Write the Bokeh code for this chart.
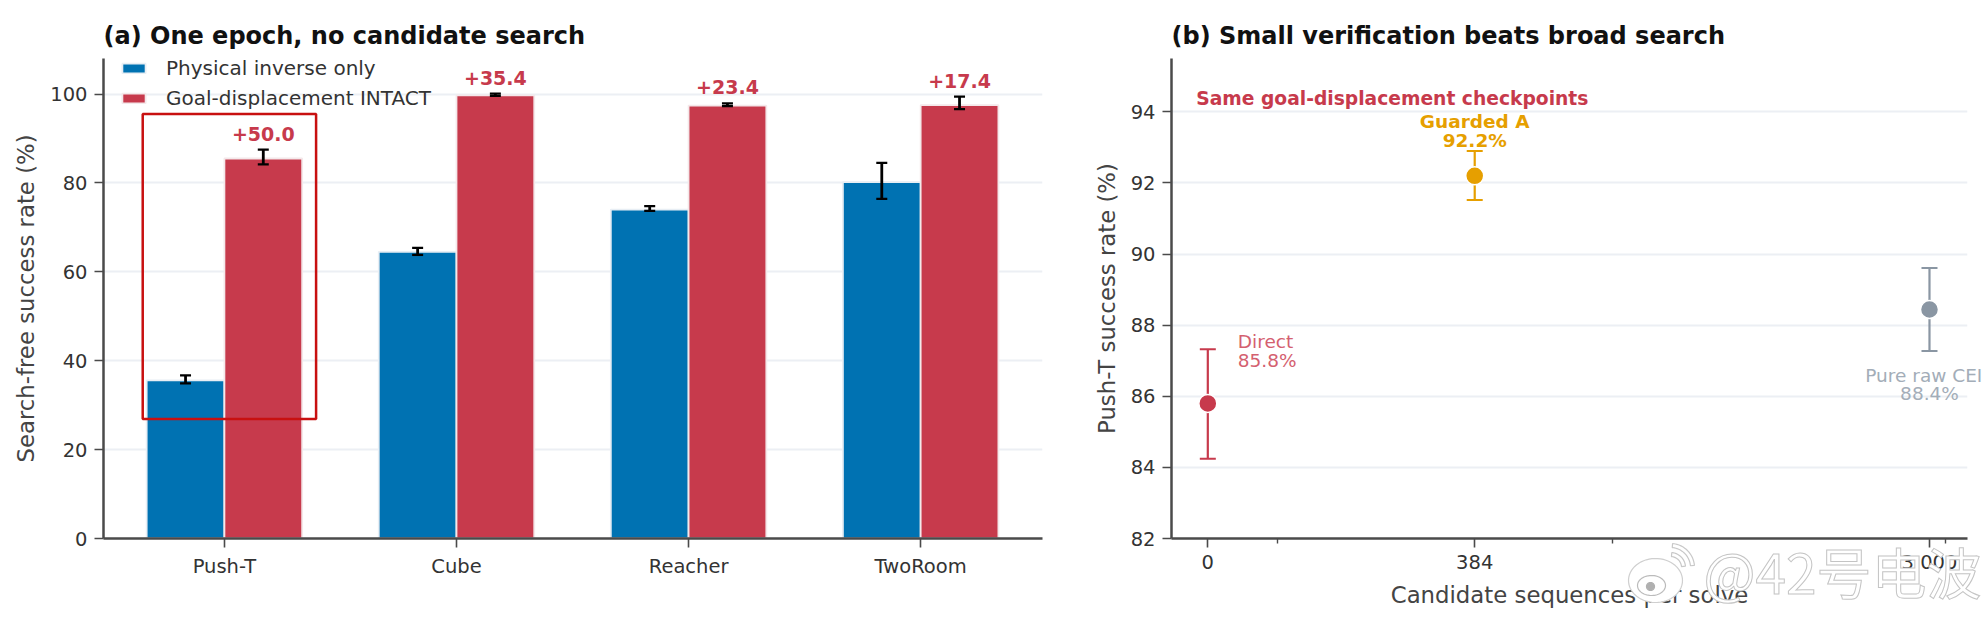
import numpy as np
from bokeh.embed import file_html
from bokeh.resources import INLINE
from bokeh.layouts import row
from bokeh.plotting import figure
from bokeh.core.properties import value
from bokeh.models import ColumnDataSource, FixedTicker, Label, Whisker, TeeHead, Legend, LegendItem

tasks = ["Push-T", "Cube", "Reacher", "TwoRoom"]
physical = [35.6, 64.5, 74.0, 80.2]
physical_low = [34.9, 63.8, 73.7, 76.4]
physical_high = [36.7, 65.4, 74.8, 84.5]
intact = [85.5, 99.7, 97.4, 97.5]
intact_low = [84.2, 99.6, 97.3, 96.6]
intact_high = [87.5, 100.1, 97.9, 99.4]
gains = ["+50.0", "+35.4", "+23.4", "+17.4"]

candidates = [0, 384, 3000]
tick_labels = ["0", "384", "3,000"]
minor_candidates = [100, 582, 3268]
rates = [85.8, 92.2, 88.44]
rates_low = [84.24, 91.52, 87.27]
rates_high = [87.32, 92.9, 89.61]
method_names = ["Direct", "Guarded A", "Pure raw CEI"]
method_values = ["85.8%", "92.2%", "88.4%"]

BLUE, RED, ORANGE, GRAY = "#0072b2", "#c73a4c", "#e69f00", "#8a96a3"
SPINE, TICK_TEXT, GRID = "#4a4a4a", "#333333", "#eceff4"
FONT = "DejaVu Sans"


def style(p, ticks_y):
    p.title.text_font = FONT
    p.title.text_font_size = "24px"
    p.title.text_font_style = "bold"
    p.title.text_color = "#111111"
    p.title.align = "left"
    p.title.offset = 0
    p.title.standoff = 18
    p.outline_line_color = None
    p.xgrid.visible = False
    p.ygrid.grid_line_color = GRID
    p.ygrid.grid_line_width = 2
    p.yaxis.ticker = FixedTicker(ticks=ticks_y)
    for ax in (p.xaxis[0], p.yaxis[0]):
        ax.axis_line_color = SPINE
        ax.axis_line_width = 2.5
        ax.major_tick_line_color = SPINE
        ax.major_tick_line_width = 1.6
        ax.major_tick_out = 9
        ax.major_tick_in = 0
        ax.minor_tick_line_color = SPINE
        ax.minor_tick_line_width = 1.4
        ax.minor_tick_out = 5
        ax.minor_tick_in = 0
        ax.major_label_text_font = FONT
        ax.major_label_text_font_size = "19.5px"
        ax.major_label_text_color = TICK_TEXT
        ax.major_label_standoff = 7
        ax.axis_label_text_font = FONT
        ax.axis_label_text_font_style = "normal"
        ax.axis_label_text_font_size = "22.8px"
        ax.axis_label_text_color = "#444444"


# ---------- panel (a)
x_a = np.arange(len(tasks))
shift = 0.1675
a = figure(width=1081, height=622, min_border_left=103, min_border_right=39, min_border_top=58, min_border_bottom=84,
           x_range=(-0.521, 3.525), y_range=(0, 108), output_backend="svg", toolbar_location=None,
           title="(a) One epoch, no candidate search")
style(a, [0, 20, 40, 60, 80, 100])
a.xaxis.ticker = FixedTicker(ticks=list(x_a))
a.xaxis.major_label_overrides = {int(i): t for i, t in zip(x_a, tasks)}
a.yaxis.axis_label = "Search-free success rate (%)"
a.yaxis.axis_label_standoff = 8

src_p = ColumnDataSource(dict(x=x_a - shift, top=physical, low=physical_low, high=physical_high))
src_i = ColumnDataSource(dict(x=x_a + shift, top=intact, low=intact_low, high=intact_high, gain=gains))
b1 = a.vbar(x="x", top="top", width=0.335, source=src_p, fill_color=BLUE, line_color="#e8eef4", line_width=1.8)
b2 = a.vbar(x="x", top="top", width=0.335, source=src_i, fill_color=RED, line_color="#f4e8ea", line_width=1.8)
for s in (src_p, src_i):
    a.add_layout(Whisker(base="x", lower="low", upper="high", source=s, level="annotation",
                         line_color="black", line_width=2.8,
                         upper_head=TeeHead(size=11, line_color="black", line_width=2.2),
                         lower_head=TeeHead(size=11, line_color="black", line_width=2.2)))
a.text(x="x", y="high", text="gain", source=src_i, y_offset=-16, text_align="center", text_baseline="middle",
       text_color=RED, text_font=value(FONT), text_font_size="19px", text_font_style="bold")
leg = Legend(items=[LegendItem(label="Physical inverse only", renderers=[b1]),
                    LegendItem(label="Goal-displacement INTACT", renderers=[b2])],
             location=(16, 428), orientation="vertical", glyph_width=29, glyph_height=12, label_standoff=18,
             spacing=6, padding=0, margin=0, border_line_color=None, background_fill_alpha=0,
             label_text_font=FONT, label_text_font_size="20px", label_text_color="#333333", label_height=23)
a.add_layout(leg)
a.quad(left=[-0.352], right=[0.395], bottom=[26.9], top=[95.5], fill_color=None, line_color="#c81010", line_width=2.5,
       level="overlay")


# ---------- panel (b)
def f(n, t=615.0):
    n = np.asarray(n, dtype=float)
    return np.where(n < t, n / t, 1 + np.log10(np.maximum(n, t) / t))


xb = f(candidates)
scale = 721.5 / float(xb[2])
b = figure(width=907, height=622, min_border_left=90, min_border_right=21, min_border_top=58, min_border_bottom=84,
           x_range=(-36.3 / scale, float(xb[2]) + 38 / scale), y_range=(82, 95.5), output_backend="svg",
           toolbar_location=None, title="(b) Small verification beats broad search")
style(b, [82, 84, 86, 88, 90, 92, 94])
b.xaxis.ticker = FixedTicker(ticks=[float(v) for v in xb], minor_ticks=[float(v) for v in f(minor_candidates)])
b.xaxis.major_label_overrides = {float(v): t for v, t in zip(xb, tick_labels)}
b.xaxis.axis_label = "Candidate sequences per solve"
b.xaxis.axis_label_standoff = 10
b.yaxis.axis_label = "Push-T success rate (%)"
b.yaxis.axis_label_standoff = 8

colors = [RED, ORANGE, GRAY]
text_colors = ["#d4606f", ORANGE, "#a3adb8"]
src_b = ColumnDataSource(dict(x=xb, y=rates, low=rates_low, high=rates_high, color=colors))
for i in range(3):
    one = ColumnDataSource(dict(x=[xb[i]], low=[rates_low[i]], high=[rates_high[i]]))
    b.add_layout(Whisker(base="x", lower="low", upper="high", source=one, level="underlay", line_color=colors[i],
                         line_width=2.2,
                         upper_head=TeeHead(size=16, line_color=colors[i], line_width=2),
                         lower_head=TeeHead(size=16, line_color=colors[i], line_width=2)))
b.scatter(x="x", y="y", source=src_b, size=18, fill_color="color", line_color="white", line_width=1.5)

lab = dict(text_baseline="middle", text_font=FONT, text_font_size="18.5px")
b.add_layout(Label(x=float(xb[0]), y=rates[0], x_offset=30, y_offset=62, text=method_names[0], text_align="left",
                   text_color=text_colors[0], **lab))
b.add_layout(Label(x=float(xb[0]), y=rates[0], x_offset=30, y_offset=43, text=method_values[0], text_align="left",
                   text_color=text_colors[0], **lab))
b.add_layout(Label(x=float(xb[1]), y=rates[1], y_offset=54.4, text=method_names[1], text_align="center",
                   text_color=text_colors[1], text_font_style="bold", **lab))
b.add_layout(Label(x=float(xb[1]), y=rates[1], y_offset=35, text=method_values[1], text_align="center",
                   text_color=text_colors[1], text_font_style="bold", **lab))
b.add_layout(Label(x=float(xb[2]), y=rates[2], y_offset=-84, text=method_values[2], text_align="center",
                   text_color=text_colors[2], **lab))
b.add_layout(Label(x=0, y=94.38, x_offset=-11.6, text="Same goal-displacement checkpoints", text_align="left",
                   text_baseline="middle", text_color=RED, text_font=FONT, text_font_size="18.7px",
                   text_font_style="bold"))

# ---------- transparent overlay: texts that leave the frame of panel (b), and the watermark
over = figure(width=1988, height=622, x_range=(0, 1988), y_range=(622, 0), min_border=0, output_backend="svg",
              toolbar_location=None, x_axis_type=None, y_axis_type=None, background_fill_color=None,
              border_fill_color=None, outline_line_color=None, frame_align=False,
              styles={"position": "absolute", "left": "0px", "top": "0px", "z-index": "5", "pointer-events": "none"})
over.xgrid.visible = False
over.ygrid.visible = False
over.text(x=[1207.3 + float(xb[2]) * scale - 5.5], y=[538.3 - (rates[2] - 82) * 35.55 + 65.7], text=[method_names[2]],
          text_align="center", text_baseline="middle", text_color=text_colors[2], text_font=value(FONT),
          text_font_size="18.5px")
t = np.linspace(0, 2 * np.pi, 60)


def blob(cx, cy, rx, ry, fill, line):
    over.patch(cx + rx * np.cos(t), cy + ry * np.sin(t), fill_color=fill, line_color=line, line_width=1.2)


def crescent(cx, cy, r1, r2, a1, a2):
    ang = np.radians(np.linspace(a1, a2, 24))
    xs = np.r_[cx + r2 * np.cos(ang), cx + r1 * np.cos(ang[::-1])]
    ys = np.r_[cy - r2 * np.sin(ang), cy - r1 * np.sin(ang[::-1])]
    over.patch(xs, ys, fill_color="#ffffff", line_color="#c8c8c8", line_width=1.2)


blob(1655, 580, 27, 22, "#ffffff", "#cfcfcf")
blob(1651, 585, 14, 10, "#ffffff", "#bbbbbb")
blob(1650, 586, 4, 4, "#b0b0b0", "#b0b0b0")
crescent(1670, 567, 11, 15, 5, 85)
crescent(1670, 567, 20, 24, 5, 85)
over.text(x=[1703], y=[569], text=["@42号电波"], text_align="left", text_baseline="middle", text_color="#ffffff",
          text_outline_color="#c4c4c4", text_font=value("Noto Sans CJK SC"), text_font_size="55px")

open("out.html", "w").write(file_html(row(a, b, over, spacing=0), INLINE))
